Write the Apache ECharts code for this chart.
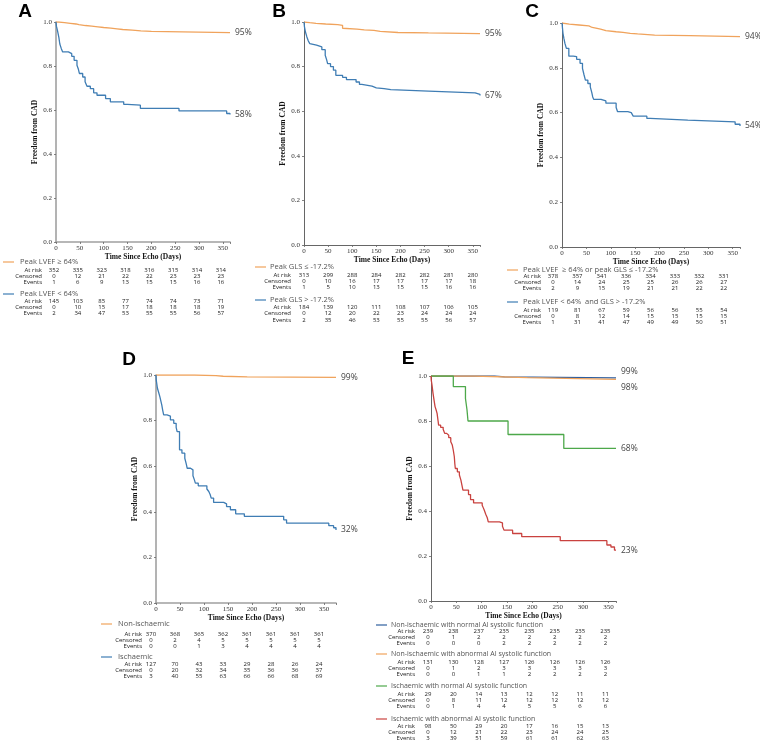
<!DOCTYPE html>
<html><head><meta charset="utf-8">
<script src="https://cdn.jsdelivr.net/npm/echarts@6/dist/echarts.min.js"></script>
<style>html,body{margin:0;padding:0;background:#fff}#c{width:760px;height:744px}</style>
</head><body><div id="c"></div>
<script>
// ---------- DATA ----------
const DAYS = [0, 50, 100, 150, 200, 250, 300, 350];
const ROW_LABELS = ['At risk', 'Censored', 'Events'];

// Panel A
const legA1 = 'Peak LVEF \u2265 64%';
const legA2 = 'Peak LVEF < 64%';
const curveA1 = [[0,1],[6,0.997],[18,0.994],[30,0.991],[42,0.988],[48,0.984],[62,0.981],[75,0.978],[88,0.975],[100,0.972],[115,0.969],[128,0.966],[140,0.963],[160,0.96],[178,0.957],[200,0.955],[265,0.952],[365,0.952]];
const curveA2 = [[0,1],[1,0.98],[3,0.962],[6,0.93],[8,0.9],[11,0.88],[14,0.864],[26,0.856],[33,0.844],[38,0.826],[44,0.803],[47,0.785],[49,0.766],[56,0.75],[61,0.728],[65,0.708],[72,0.697],[79,0.678],[86,0.667],[104,0.652],[114,0.637],[142,0.626],[150,0.622],[177,0.607],[258,0.596],[358,0.584],[365,0.58]];
const riskA1 = [352,335,323,318,316,315,314,314], censA1 = [0,12,21,22,22,23,23,23], evtA1 = [1,6,9,13,15,15,16,16];
const riskA2 = [145,103,85,77,74,74,73,71], censA2 = [0,10,15,17,18,18,18,19], evtA2 = [2,34,47,53,55,55,56,57];

// Panel B
const legB1 = 'Peak GLS \u2264 -17.2%';
const legB2 = 'Peak GLS > -17.2%';
const curveB1 = [[0,1],[3,0.997],[12,0.994],[25,0.991],[45,0.988],[70,0.985],[80,0.972],[84,0.968],[110,0.965],[125,0.962],[145,0.958],[158,0.953],[195,0.951],[258,0.948],[365,0.948]];
const curveB2 = [[0,1],[1,0.978],[3,0.955],[6,0.933],[9,0.915],[12,0.903],[16,0.896],[26,0.888],[37,0.876],[44,0.851],[47,0.83],[49,0.813],[55,0.8],[61,0.784],[66,0.761],[80,0.752],[88,0.742],[108,0.731],[115,0.72],[120,0.712],[141,0.705],[150,0.701],[166,0.697],[180,0.69],[258,0.682],[355,0.675],[365,0.67]];
const riskB1 = [313,299,288,284,282,282,281,280], censB1 = [0,10,16,17,17,17,17,18], evtB1 = [1,5,10,13,15,15,16,16];
const riskB2 = [184,139,120,111,108,107,106,105], censB2 = [0,12,20,22,23,24,24,24], evtB2 = [2,35,46,53,55,55,56,57];

// Panel C
const legC1 = 'Peak LVEF  \u2265 64% or peak GLS \u2264 -17.2%';
const legC2 = 'Peak LVEF < 64%  and GLS > -17.2%';
const curveC1 = [[0,1],[3,0.995],[15,0.991],[35,0.987],[55,0.98],[62,0.976],[72,0.973],[79,0.966],[90,0.961],[111,0.958],[125,0.954],[140,0.951],[155,0.946],[190,0.944],[262,0.939],[365,0.939]];
const curveC2 = [[0,1],[2,0.954],[4,0.93],[6,0.909],[9,0.887],[14,0.852],[23,0.85],[30,0.838],[37,0.82],[42,0.797],[45,0.77],[48,0.745],[53,0.73],[58,0.715],[61,0.69],[63,0.67],[65,0.659],[80,0.652],[90,0.642],[111,0.623],[114,0.604],[135,0.6],[142,0.592],[146,0.584],[174,0.574],[181,0.566],[258,0.559],[355,0.548],[365,0.54]];
const riskC1 = [378,357,341,336,334,333,332,331], censC1 = [0,14,24,25,25,26,26,27], evtC1 = [2,9,15,19,21,21,22,22];
const riskC2 = [119,81,67,59,56,56,55,54], censC2 = [0,8,12,14,15,15,15,15], evtC2 = [1,31,41,47,49,49,50,51];

// Panel D
const legD1 = 'Non-ischaemic';
const legD2 = 'Ischaemic';
const curveD1 = [[0,1],[80,0.9973],[125,0.9946],[140,0.9919],[190,0.9892],[375,0.9892]];
const curveD2 = [[0,1],[0.5,0.978],[3,0.942],[6,0.92],[8,0.905],[12,0.869],[14,0.845],[16,0.825],[23,0.82],[30,0.803],[37,0.788],[42,0.77],[44,0.752],[49,0.672],[54,0.657],[60,0.635],[63,0.61],[65,0.591],[72,0.584],[77,0.558],[80,0.54],[82,0.526],[88,0.514],[106,0.5],[110,0.489],[113,0.475],[115,0.46],[120,0.441],[141,0.435],[147,0.423],[155,0.409],[166,0.391],[184,0.38],[266,0.365],[272,0.35],[360,0.339],[370,0.33],[375,0.32]];
const riskD1 = [370,368,365,362,361,361,361,361], censD1 = [0,2,4,5,5,5,5,5], evtD1 = [0,0,1,3,4,4,4,4];
const riskD2 = [127,70,43,33,29,28,26,24], censD2 = [0,20,32,34,35,36,36,37], evtD2 = [3,40,55,63,66,66,68,69];

// Panel E
const legE1 = 'Non-ischaemic with normal AI systolic function';
const legE2 = 'Non-ischaemic with abnormal AI systolic function';
const legE3 = 'Ischaemic with normal AI systolic function';
const legE4 = 'Ischaemic with abnormal AI systolic function';
const curveE1 = [[0,1],[125,0.9958],[145,0.9916],[365,0.9916]];
const curveE2 = [[0,1],[85,0.9924],[190,0.9848],[365,0.9848]];
const curveE3 = [[0,1],[44,0.953],[68,0.9],[71,0.85],[73,0.8],[152,0.74],[262,0.678],[365,0.678]];
const curveE4 = [[0,1],[0.5,0.982],[2,0.96],[4,0.923],[6,0.893],[8,0.864],[10,0.85],[12,0.834],[14,0.8],[15,0.782],[19,0.772],[24,0.763],[27,0.745],[31,0.737],[35,0.726],[39,0.708],[42,0.693],[44,0.67],[46,0.641],[47,0.61],[48,0.589],[52,0.574],[56,0.56],[59,0.537],[61,0.515],[63,0.493],[74,0.473],[78,0.451],[84,0.436],[101,0.426],[103,0.415],[105,0.404],[108,0.386],[111,0.37],[113,0.352],[135,0.347],[141,0.332],[144,0.315],[161,0.3],[179,0.286],[255,0.268],[347,0.249],[355,0.24],[362,0.226],[365,0.226]];
const riskE1 = [239,238,237,235,235,235,235,235], censE1 = [0,1,2,2,2,2,2,2], evtE1 = [0,0,0,2,2,2,2,2];
const riskE2 = [131,130,128,127,126,126,126,126], censE2 = [0,1,2,3,3,3,3,3], evtE2 = [0,0,1,1,2,2,2,2];
const riskE3 = [29,20,14,13,12,12,11,11], censE3 = [0,8,11,12,12,12,12,12], evtE3 = [0,1,4,4,5,5,6,6];
const riskE4 = [98,50,29,20,17,16,15,13], censE4 = [0,12,21,22,23,24,24,25], evtE4 = [3,39,51,59,61,61,62,63];

// ---------- STYLE / LAYOUT ----------
const ORANGE = '#F0A35C', BLUE = '#3F7DB4', DBLUE = '#2E5E9E', GREEN = '#4DA84A', RED = '#C9423F';
const SERIF = '"Liberation Serif", "DejaVu Serif", serif';
const SANS = '"Open Sans", "Noto Sans", sans-serif';

const panels = [
  { id:'A', grid:{left:56, top:22, width:174, height:220}, xMax:365, axisColor:'#a0a0a0', axisW:1.6, letter:[25,11.5],
    curves:[{data:curveA1,color:ORANGE,label:'95%'},{data:curveA2,color:BLUE,label:'58%'}],
    table:{lineX:3, textX:20, rowRight:42, colShift:-2, legFont:7.5,
      groups:[{name:legA1,color:ORANGE,y:262,rows:[270,276,282],vals:[riskA1,censA1,evtA1]},
              {name:legA2,color:BLUE,y:294,rows:[301,307,313],vals:[riskA2,censA2,evtA2]}]}},
  { id:'B', grid:{left:304, top:22, width:176, height:223}, xMax:365, axisColor:'#666', axisW:1, letter:[279,11.5],
    curves:[{data:curveB1,color:ORANGE,label:'95%'},{data:curveB2,color:BLUE,label:'67%'}],
    table:{lineX:255, textX:270, rowRight:291, colShift:0, legFont:7.5,
      groups:[{name:legB1,color:ORANGE,y:267,rows:[275,281,287],vals:[riskB1,censB1,evtB1]},
              {name:legB2,color:BLUE,y:300,rows:[307,313,320],vals:[riskB2,censB2,evtB2]}]}},
  { id:'C', grid:{left:562, top:23, width:178, height:224}, xMax:365, axisColor:'#666', axisW:1, letter:[532,11.5],
    curves:[{data:curveC1,color:ORANGE,label:'94%'},{data:curveC2,color:BLUE,label:'54%'}],
    table:{lineX:507, textX:523, rowRight:541, colShift:-9, legFont:7.5,
      groups:[{name:legC1,color:ORANGE,y:270,rows:[276,282,288],vals:[riskC1,censC1,evtC1]},
              {name:legC2,color:BLUE,y:302,rows:[310,316,322],vals:[riskC2,censC2,evtC2]}]}},
  { id:'D', grid:{left:156, top:375, width:180, height:228}, xMax:375, axisColor:'#a0a0a0', axisW:1.6, letter:[129,360],
    curves:[{data:curveD1,color:ORANGE,label:'99%'},{data:curveD2,color:BLUE,label:'32%'}],
    table:{lineX:101, textX:118, rowRight:142, colShift:-5, legFont:7.5,
      groups:[{name:legD1,color:ORANGE,y:624,rows:[634,640,646],vals:[riskD1,censD1,evtD1]},
              {name:legD2,color:BLUE,y:657,rows:[664,670,676],vals:[riskD2,censD2,evtD2]}]}},
  { id:'E', grid:{left:431, top:376, width:185, height:225}, xMax:365, axisColor:'#666', axisW:1, letter:[408,359],
    curves:[{data:curveE1,color:DBLUE,label:'99%',off:-6},{data:curveE2,color:ORANGE,label:'98%',off:8},
            {data:curveE3,color:GREEN,label:'68%'},{data:curveE4,color:RED,label:'23%'}],
    table:{lineX:376, textX:391, rowRight:415, colShift:-3, legFont:7,
      groups:[{name:legE1,color:DBLUE,y:625,rows:[631,637,643],vals:[riskE1,censE1,evtE1]},
              {name:legE2,color:ORANGE,y:654,rows:[662,668,674],vals:[riskE2,censE2,evtE2]},
              {name:legE3,color:GREEN,y:686,rows:[694,700,706],vals:[riskE3,censE3,evtE3]},
              {name:legE4,color:RED,y:719,rows:[726,732,738],vals:[riskE4,censE4,evtE4]}]}}
];

// ---------- BUILD ----------
const chart = echarts.init(document.getElementById('c'), null, {renderer:'canvas', width:760, height:744});
const grids = [], xAxes = [], yAxes = [], series = [];
panels.forEach((p, i) => {
  grids.push(Object.assign({containLabel:false}, p.grid));
  const axisLine = {show:true, lineStyle:{color:p.axisColor, width:p.axisW}};
  const axisTick = {show:true, length:2, lineStyle:{color:'#666', width:0.8}};
  xAxes.push({type:'value', gridIndex:i, min:0, max:p.xMax, interval:50,
    axisLine, axisTick, splitLine:{show:false},
    axisLabel:{fontFamily:SERIF, fontSize:7, color:'#333', margin:3, formatter:v => (v % 50 === 0 ? String(v) : '')},
    name:'Time Since Echo (Days)', nameLocation:'middle', nameGap:10,
    nameTextStyle:{fontFamily:SERIF, fontWeight:'bold', fontSize:7.5, color:'#111'}});
  yAxes.push({type:'value', gridIndex:i, min:0, max:1, interval:0.2,
    axisLine, axisTick, splitLine:{show:false},
    axisLabel:{fontFamily:SERIF, fontSize:7, color:'#333', margin:4, formatter:v => v.toFixed(1)},
    name:'Freedom from CAD', nameLocation:'middle', nameGap:13,
    nameTextStyle:{fontFamily:SERIF, fontWeight:'bold', fontSize:7.5, color:'#111'}});
  p.curves.forEach(c => {
    series.push({type:'line', xAxisIndex:i, yAxisIndex:i, step:'end', symbol:'none', silent:true,
      data:c.data, lineStyle:{color:c.color, width:1.3}, itemStyle:{color:c.color},
      endLabel:{show:true, formatter:c.label, distance:5, offset:[0, c.off || 0],
        color:'#444', fontSize:8.5, fontFamily:SANS}});
  });
});

chart.setOption({animation:false, backgroundColor:'#fff', grid:grids, xAxis:xAxes, yAxis:yAxes, series});

// tables, legends, panel letters
const graphics = [];
panels.forEach((p, i) => {
  graphics.push({type:'text', x:p.letter[0], y:p.letter[1], silent:true,
    style:{text:p.id, font:'bold 19px "Liberation Sans", Arial, sans-serif', fill:'#000', align:'center', verticalAlign:'middle'}});
  const t = p.table;
  t.groups.forEach(g => {
    graphics.push({type:'line', silent:true, shape:{x1:t.lineX, y1:g.y, x2:t.lineX + 11, y2:g.y},
      style:{stroke:g.color, lineWidth:1.2}});
    graphics.push({type:'text', x:t.textX, y:g.y, silent:true,
      style:{text:g.name, font:t.legFont + 'px ' + SANS, fill:'#555', align:'left', verticalAlign:'middle'}});
    ROW_LABELS.forEach((lab, r) => {
      graphics.push({type:'text', x:t.rowRight, y:g.rows[r], silent:true,
        style:{text:lab, font:'6px ' + SANS, fill:'#222', align:'right', verticalAlign:'middle'}});
      DAYS.forEach((d, c) => {
        const px = chart.convertToPixel({gridIndex:i}, [d, 0])[0] + t.colShift;
        graphics.push({type:'text', x:px, y:g.rows[r], silent:true,
          style:{text:String(g.vals[r][c]), font:'6px ' + SANS, fill:'#222', align:'center', verticalAlign:'middle'}});
      });
    });
  });
});
chart.setOption({graphic:graphics});
</script></body></html>
